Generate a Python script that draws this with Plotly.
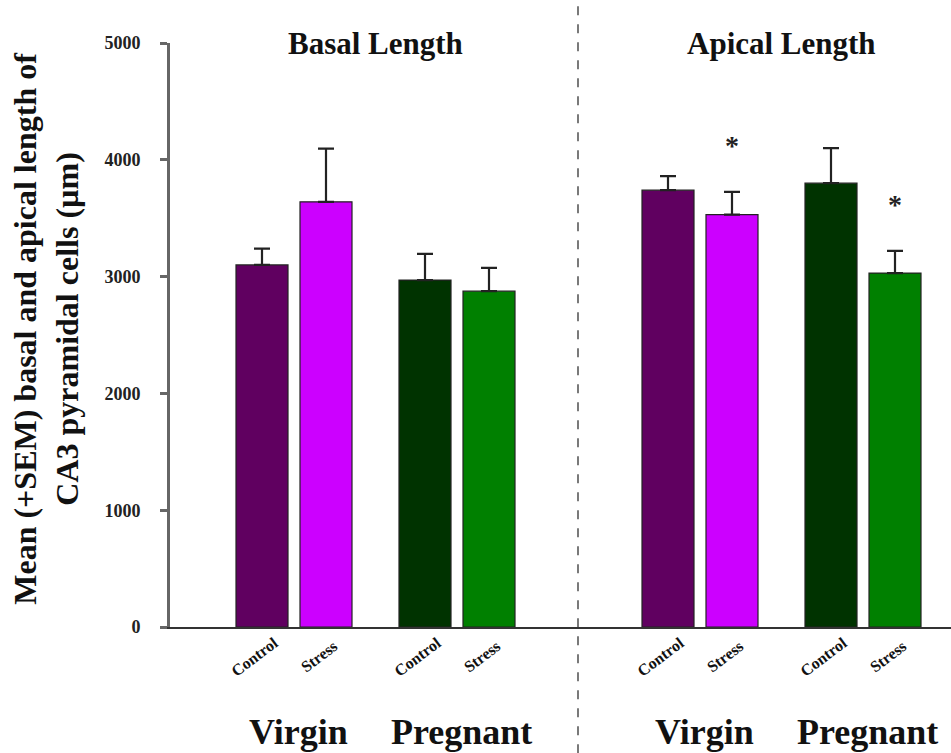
import plotly.graph_objects as go

# Data: mean dendritic length (µm) with upper SEM, per measure / group / condition
measures = ["Basal Length", "Apical Length"]
groups = ["Virgin", "Pregnant"]
conditions = ["Control", "Stress"]

basal_mean = [3100, 3640, 2970, 2875]
basal_sem = [140, 455, 225, 200]
apical_mean = [3740, 3530, 3800, 3030]
apical_sem = [120, 195, 300, 190]

significant = [[False, False, False, False], [False, True, False, True]]
star_offset = 400

y_ticks = [0, 1000, 2000, 3000, 4000, 5000]

bar_colors = ["#600060", "#CC00FF", "#003300", "#008000"]

SERIF = "Liberation Serif, Times New Roman, serif"

# Horizontal layout (x axis in pixel-like units from the y axis)
panel_step = 406
group_step = 163
cond_step = 64
first_center = 92
bar_width = 52

xs, ys, errs, cols = [], [], [], []
for p, (means, sems) in enumerate([(basal_mean, basal_sem), (apical_mean, apical_sem)]):
    for g in range(len(groups)):
        for c in range(len(conditions)):
            i = g * 2 + c
            x = first_center + p * panel_step + g * group_step + c * cond_step
            xs.append(x)
            ys.append(means[i])
            errs.append(sems[i])
            cols.append(bar_colors[i])

fig = go.Figure()
fig.add_trace(go.Bar(
    x=xs, y=ys, width=bar_width,
    marker=dict(color=cols, line=dict(color="#222222", width=1.2)),
    error_y=dict(type="data", symmetric=False, array=errs, arrayminus=[0] * len(errs),
                 color="#222222", thickness=2.2, width=8),
    showlegend=False,
))

annotations = []
# Condition labels under each bar
for k, x in enumerate(xs):
    annotations.append(dict(
        x=x, xref="x", y=-0.051, yref="paper", text="<b>%s</b>" % conditions[k % 2],
        showarrow=False, textangle=-37, xanchor="center", yanchor="middle", xshift=-7,
        font=dict(family=SERIF, size=16, color="#111111")))
    p, i = divmod(k, 4)
    if significant[p][i]:
        annotations.append(dict(
            x=x, xref="x", y=ys[k] + errs[k] + star_offset, yref="y", text="<b>*</b>",
            showarrow=False, yanchor="middle",
            font=dict(family=SERIF, size=28, color="#222222")))

# Group labels and panel titles
for p in range(len(measures)):
    for g in range(len(groups)):
        gx = first_center + p * panel_step + g * group_step + cond_step / 2 + 4
        annotations.append(dict(
            x=gx, xref="x", y=-0.18, yref="paper", text="<b>%s</b>" % groups[g],
            showarrow=False, yanchor="middle",
            font=dict(family=SERIF, size=36, color="#111111")))
    tx = first_center + p * panel_step + (group_step + cond_step) / 2
    annotations.append(dict(
        x=tx, xref="x", y=1.0, yref="paper", text="<b>%s</b>" % measures[p],
        showarrow=False, yanchor="middle", font=dict(family=SERIF, size=31, color="#111111")))

# Y axis title
annotations.append(dict(
    x=-0.158, xref="paper", y=0.51, yref="paper",
    text="<b>Mean (+SEM) basal and apical length of<br>CA3 pyramidal cells (µm)</b>",
    showarrow=False, textangle=-90, xanchor="center", yanchor="middle",
    font=dict(family=SERIF, size=32, color="#111111")))

fig.update_layout(
    width=951, height=753,
    margin=dict(l=170, r=0, t=43, b=126),
    paper_bgcolor="white", plot_bgcolor="white",
    annotations=annotations,
    shapes=[dict(type="line", xref="x", yref="paper",
                 x0=408, x1=408, y0=-0.216, y1=1.074,
                 line=dict(color="#333333", width=1.3, dash="dash"))],
    xaxis=dict(range=[0, 781], showticklabels=False, ticks="", showgrid=False,
               zeroline=False, showline=True, linecolor="#333333", linewidth=2),
    yaxis=dict(range=[0, 5000], showgrid=False, zeroline=False,
               showline=True, linecolor="#666666", linewidth=3,
               tickvals=y_ticks, ticktext=["<b>%d</b>" % v for v in y_ticks],
               ticks="outside", ticklen=7, tickwidth=3, tickcolor="#666666",
               ticklabelstandoff=16,
               tickfont=dict(family=SERIF, size=18, color="#222222")),
)

fig.write_html("out.html")
